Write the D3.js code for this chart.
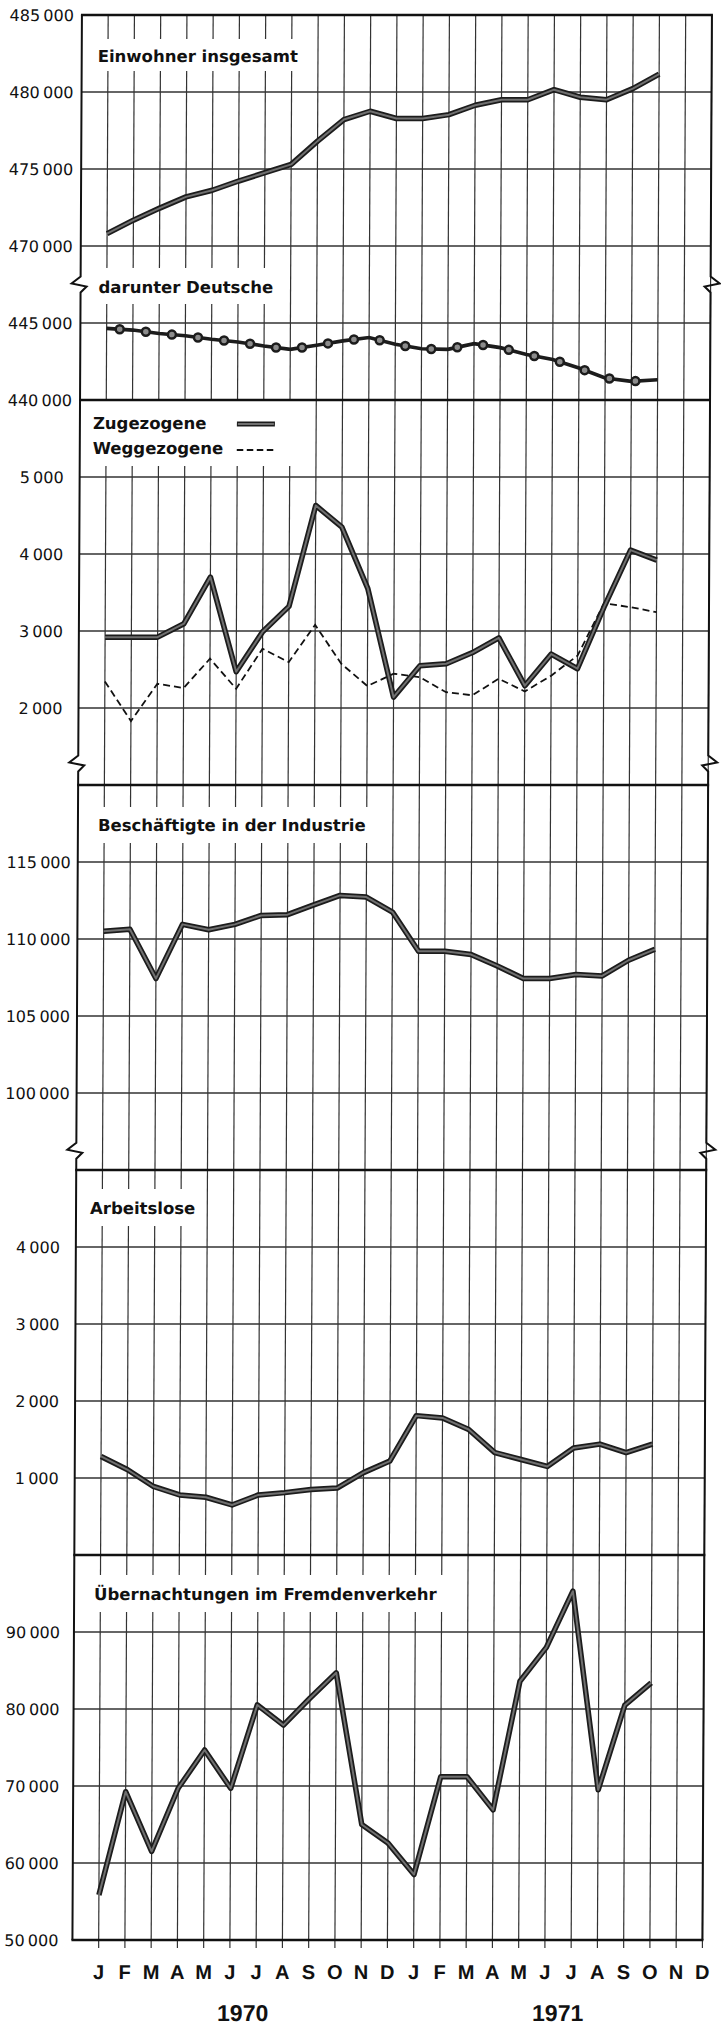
<!DOCTYPE html>
<html>
<head>
<meta charset="utf-8">
<script src="https://cdnjs.cloudflare.com/ajax/libs/d3/7.8.5/d3.min.js"></script>
<style>
body { margin: 0; background: #fff; }
svg { display: block; background: #fff; }
.tick { font-family: "DejaVu Sans", sans-serif; font-size: 16px; fill: #111; }
.title { font-family: "DejaVu Sans", sans-serif; font-weight: bold; font-size: 16.5px; fill: #111; }
.month { font-family: "Liberation Sans", Arial, sans-serif; font-weight: bold; font-size: 20px; fill: #111; }
.year { font-family: "Liberation Sans", Arial, sans-serif; font-weight: bold; font-size: 23px; fill: #111; }
</style>
</head>
<body>
<svg id="chart" width="721" height="2026"></svg>
<script>

var months = ["J","F","M","A","M","J","J","A","S","O","N","D","J","F","M","A","M","J","J","A","S","O","N","D"];
var years = ["1970", "1971"];

// Jan 1970 .. Okt 1971
var einwohner = [470800, 471680, 472460, 473190, 473620, 474220, 474760, 475300, 476810, 478210, 478750,
	478280, 478280, 478530, 479140, 479500, 479500, 480150, 479660, 479500, 480220, 481160];
var deutsche = [444650, 444540, 444320, 444170, 443950, 443770, 443510, 443290, 443550, 443840, 444060,
	443620, 443330, 443290, 443660, 443400, 442960, 442630, 442080, 441430, 441210, 441320];
var zugezogene = [2920, 2920, 2920, 3095, 3700, 2470, 2990, 3320, 4630, 4350, 3550,
	2140, 2550, 2575, 2720, 2910, 2290, 2700, 2510, 3310, 4050, 3920];
var weggezogene = [2345, 1830, 2315, 2260, 2640, 2250, 2770, 2595, 3080, 2575, 2285,
	2445, 2400, 2205, 2165, 2380, 2215, 2420, 2680, 3360, 3310, 3245];
var industrie = [110500, 110630, 107430, 110950, 110600, 110950, 111530, 111580, 112220, 112830, 112720,
	111750, 109200, 109200, 108990, 108250, 107430, 107430, 107690, 107600, 108620, 109330];
var arbeitslose = [1280, 1110, 890, 780, 750, 650, 780, 810, 850, 870, 1070,
	1220, 1810, 1780, 1630, 1330, 1240, 1150, 1390, 1440, 1330, 1440];
var uebernachtungen = [55850, 69260, 61510, 69700, 74680, 69700, 80530, 77900, 81400, 84700, 65000,
	62600, 58500, 71200, 71200, 66900, 83600, 88000, 95300, 69500, 80500, 83400];

var ticksEinwohner = [485000, 480000, 475000, 470000];
var ticksDeutsche = [445000, 440000];
var ticksWanderung = [5000, 4000, 3000, 2000];
var ticksIndustrie = [115000, 110000, 105000, 100000];
var ticksArbeitslose = [4000, 3000, 2000, 1000];
var ticksUebernachtung = [90000, 80000, 70000, 60000, 50000];

var titles = ["Einwohner insgesamt", "darunter Deutsche", "Zugezogene", "Weggezogene",
	"Beschäftigte in der Industrie", "Arbeitslose", "Übernachtungen im Fremdenverkehr"];


var top0 = 15, step = 77;
function rowY(k)
{
	return top0 + k * step;
}

var x = d3.scaleLinear().domain([-1, 23]).range([82, 712]);
var xLeft = x(-1), xRight = x(23);

var yEinw = d3.scaleLinear().domain([470000, 485000]).range([rowY(3), rowY(0)]);
var yDeut = d3.scaleLinear().domain([440000, 445000]).range([rowY(5), rowY(4)]);
var yWand = d3.scaleLinear().domain([1000, 6000]).range([rowY(10), rowY(5)]);
var yInd = d3.scaleLinear().domain([95000, 120000]).range([rowY(15), rowY(10)]);
var yArb = d3.scaleLinear().domain([0, 5000]).range([rowY(20), rowY(15)]);
var yUeb = d3.scaleLinear().domain([50000, 100000]).range([rowY(25), rowY(20)]);

var fmt = d3.formatLocale({decimal: ",", thousands: "\u2009", grouping: [3], currency: ["", ""]}).format(",");

// the scan is slightly skewed
var skew = -9.5 / 1925;

var svg = d3.select("#chart");
var chart = svg.append("g").attr("transform", "matrix(1,0," + skew + ",1,0,0)");

var gGrid = chart.append("g");
var gBoxes = chart.append("g");
var gBorder = chart.append("g");
var gLines = chart.append("g");
var gText = chart.append("g");


function drawTicks(ticks, scale, labelX)
{
	gGrid.selectAll(null)
		.data(ticks)
		.enter()
		.append("line")
		.attr("x1", xLeft)
		.attr("x2", xRight)
		.attr("y1", function(d) { return scale(d); })
		.attr("y2", function(d) { return scale(d); })
		.attr("stroke", "#333")
		.attr("stroke-width", 1.3);

	gText.selectAll(null)
		.data(ticks)
		.enter()
		.append("text")
		.attr("class", "tick")
		.attr("x", labelX)
		.attr("y", function(d) { return scale(d); })
		.attr("dy", "0.36em")
		.attr("text-anchor", "end")
		.text(function(d) { return fmt(d); });
}

drawTicks(ticksEinwohner, yEinw, 74);
drawTicks(ticksDeutsche, yDeut, 74);
drawTicks(ticksWanderung, yWand, 66);
drawTicks(ticksIndustrie, yInd, 75);
drawTicks(ticksArbeitslose, yArb, 66);
drawTicks(ticksUebernachtung, yUeb, 68);

// vertical month lines
gGrid.selectAll(".vline")
	.data(d3.range(months.length))
	.enter()
	.append("line")
	.attr("class", "vline")
	.attr("x1", function(d) { return x(d); })
	.attr("x2", function(d) { return x(d); })
	.attr("y1", rowY(0))
	.attr("y2", rowY(25) + 8)
	.attr("stroke", "#333")
	.attr("stroke-width", 1.2);


// panel borders
[0, 5, 10, 15, 20, 25].forEach(function(k)
{
	gBorder.append("line")
		.attr("x1", xLeft - 1)
		.attr("x2", xRight + 1)
		.attr("y1", rowY(k))
		.attr("y2", rowY(k))
		.attr("stroke", "#111")
		.attr("stroke-width", 2.4);
});

var breaks = [rowY(3.5), rowY(9.72), rowY(14.75)];

function borderPath(xb, dir)
{
	var p = d3.path();
	p.moveTo(xb, rowY(0));
	breaks.forEach(function(yb)
	{
		p.lineTo(xb, yb - 8);
		p.lineTo(xb - 9 * dir, yb - 1);
		p.lineTo(xb + 6 * dir, yb + 2);
		p.lineTo(xb, yb + 8);
	});
	p.lineTo(xb, rowY(25));
	return p.toString();
}

gBorder.append("path")
	.attr("d", borderPath(xLeft, 1))
	.attr("fill", "none")
	.attr("stroke", "#111")
	.attr("stroke-width", 2);

gBorder.append("path")
	.attr("d", borderPath(xRight, -1))
	.attr("fill", "none")
	.attr("stroke", "#111")
	.attr("stroke-width", 2);


// series
function lineFor(scale)
{
	return d3.line()
		.x(function(d, i) { return x(i); })
		.y(function(d) { return scale(d); });
}

function thickLine(data, scale)
{
	gLines.append("path")
		.attr("d", lineFor(scale)(data))
		.attr("fill", "none")
		.attr("stroke", "#1c1c1c")
		.attr("stroke-width", 5.5)
		.attr("stroke-linejoin", "round");
	gLines.append("path")
		.attr("d", lineFor(scale)(data))
		.attr("fill", "none")
		.attr("stroke", "#707070")
		.attr("stroke-width", 2)
		.attr("stroke-linejoin", "round");
}

thickLine(einwohner, yEinw);
thickLine(industrie, yInd);
thickLine(arbeitslose, yArb);
thickLine(uebernachtungen, yUeb);

gLines.append("path")
	.attr("d", lineFor(yWand)(weggezogene))
	.attr("fill", "none")
	.attr("stroke", "#111")
	.attr("stroke-width", 1.8)
	.attr("stroke-dasharray", "7 4");

thickLine(zugezogene, yWand);

// Deutsche: beaded line
var stepX = x(1) - x(0);
gLines.append("path")
	.attr("d", lineFor(yDeut)(deutsche))
	.attr("fill", "none")
	.attr("stroke", "#1c1c1c")
	.attr("stroke-width", 3.6);
gLines.append("path")
	.attr("d", lineFor(yDeut)(deutsche))
	.attr("fill", "none")
	.attr("stroke", "#1c1c1c")
	.attr("stroke-width", 10.5)
	.attr("stroke-linecap", "round")
	.attr("stroke-dasharray", "0 " + stepX)
	.attr("stroke-dashoffset", stepX / 2);
gLines.append("path")
	.attr("d", lineFor(yDeut)(deutsche))
	.attr("fill", "none")
	.attr("stroke", "#8c8c8c")
	.attr("stroke-width", 5.5)
	.attr("stroke-linecap", "round")
	.attr("stroke-dasharray", "0 " + stepX)
	.attr("stroke-dashoffset", stepX / 2);


// titles with white boxes behind
function boxFor(nodes, extraRight, padTop, padBottom)
{
	var x1 = 0, y1 = Infinity, y2 = -Infinity;
	nodes.forEach(function(n)
	{
		var b = n.getBBox();
		x1 = Math.max(x1, b.x + b.width);
		y1 = Math.min(y1, b.y);
		y2 = Math.max(y2, b.y + b.height);
	});
	x1 = Math.max(x1, extraRight);
	gBoxes.append("rect")
		.attr("x", xLeft + 1)
		.attr("y", y1 - padTop)
		.attr("width", x1 + 8 - xLeft - 1)
		.attr("height", y2 - y1 + padTop + padBottom)
		.attr("fill", "#fff");
}

function title(str, tx, ty)
{
	return gText.append("text")
		.attr("class", "title")
		.attr("x", tx)
		.attr("y", ty)
		.text(str)
		.node();
}

boxFor([title(titles[0], 98, 62)], 0, 8, 5);
boxFor([title(titles[1], 100, 293)], 0, 10, 7);

var tZu = title(titles[2], 95, 429);
var tWeg = title(titles[3], 95, 454);
var legX1 = 239, legX2 = 277;

gText.append("line")
	.attr("x1", legX1).attr("x2", legX2)
	.attr("y1", 424).attr("y2", 424)
	.attr("stroke", "#1c1c1c").attr("stroke-width", 5);
gText.append("line")
	.attr("x1", legX1 + 1).attr("x2", legX2 - 1)
	.attr("y1", 424).attr("y2", 424)
	.attr("stroke", "#707070").attr("stroke-width", 1.8);
gText.append("line")
	.attr("x1", legX1).attr("x2", legX2)
	.attr("y1", 450).attr("y2", 450)
	.attr("stroke", "#111").attr("stroke-width", 2)
	.attr("stroke-dasharray", "6.5 3.5");
boxFor([tZu, tWeg], legX2 + 12, 15, 8);

boxFor([title(titles[4], 102, 831)], 0, 9, 8);
boxFor([title(titles[5], 96, 1214)], 0, 10, 8);
boxFor([title(titles[6], 102, 1600)], 0, 10, 8);


// month and year labels
gText.selectAll(".month")
	.data(months)
	.enter()
	.append("text")
	.attr("class", "month")
	.attr("x", function(d, i) { return x(i); })
	.attr("y", 1979)
	.attr("text-anchor", "middle")
	.text(function(d) { return d; });

gText.selectAll(".year")
	.data(years)
	.enter()
	.append("text")
	.attr("class", "year")
	.attr("x", function(d, i) { return x(i * 12 + 5.5); })
	.attr("y", 2021)
	.attr("text-anchor", "middle")
	.text(function(d) { return d; });

</script>
</body>
</html>
